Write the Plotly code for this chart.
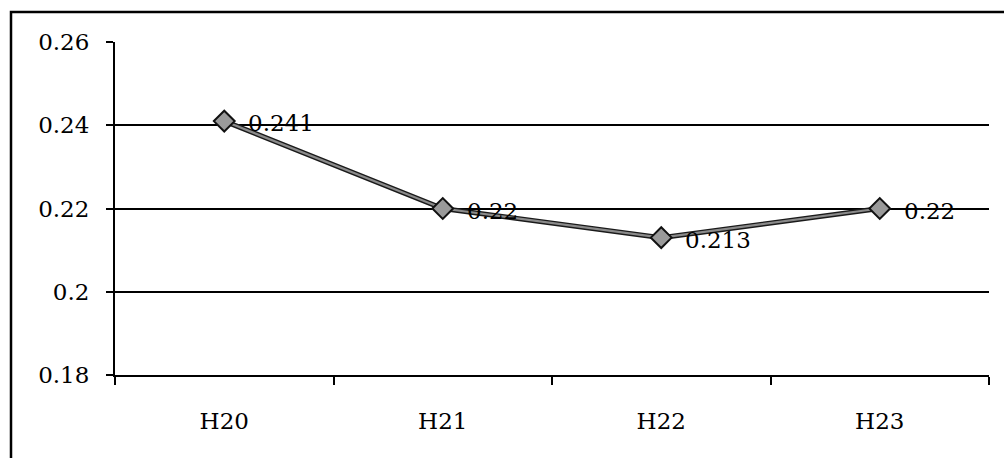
import plotly.graph_objects as go

categories = ["H20", "H21", "H22", "H23"]
values = [0.241, 0.22, 0.213, 0.22]
value_labels = ["0.241", "0.22", "0.213", "0.22"]
y_tick_vals = [0.18, 0.2, 0.22, 0.24, 0.26]
y_tick_text = ["0.18", "0.2", "0.22", "0.24", "0.26"]

FONT = "DejaVu Serif"

fig = go.Figure()
# dark outline of the line
fig.add_trace(go.Scatter(
    x=categories, y=values, mode="lines",
    line=dict(color="#1a1a1a", width=5),
    hoverinfo="skip", showlegend=False,
))
# gray core of the line + markers
fig.add_trace(go.Scatter(
    x=categories, y=values, mode="lines+markers",
    line=dict(color="#8a8a8a", width=2.2),
    marker=dict(symbol="diamond", size=16, color="#9a9a9a",
                line=dict(color="#111111", width=2)),
    showlegend=False,
))

for c, v, t in zip(categories, values, value_labels):
    fig.add_annotation(x=c, y=v, text=t, showarrow=False,
                       xanchor="left", yanchor="middle",
                       xshift=22, yshift=-2,
                       font=dict(family=FONT, size=23, color="black"))

L, R, T, B = 115, 15, 42, 83
W, H = 1004, 458
pw = W - L - R
ph = H - T - B

def px_to_paper_x(px):
    return (px - L) / pw

def px_to_paper_y(py):
    return (H - B - py) / ph

fig.add_shape(type="rect", xref="paper", yref="paper",
              x0=px_to_paper_x(11), x1=px_to_paper_x(1015),
              y0=px_to_paper_y(470), y1=px_to_paper_y(12),
              line=dict(color="black", width=2.5), layer="below")

fig.update_layout(
    width=W, height=H,
    margin=dict(l=L, r=R, t=T, b=B),
    paper_bgcolor="white", plot_bgcolor="white",
    font=dict(family=FONT, size=23, color="black"),
    xaxis=dict(
        type="category", tickson="boundaries", ticks="outside", ticklen=8,
        tickwidth=1.5, tickcolor="black", showline=True, linecolor="black",
        linewidth=1.5, showgrid=False, ticklabelstandoff=25,
        tickfont=dict(family=FONT, size=23, color="black"),
        range=[-0.5, 3.5],
    ),
    yaxis=dict(
        range=[0.18, 0.26], tickvals=y_tick_vals, ticktext=y_tick_text,
        ticks="outside", ticklen=7, tickwidth=1.5, tickcolor="black",
        showline=True, linecolor="black", linewidth=2,
        showgrid=True, gridcolor="black", gridwidth=1.5,
        zeroline=False, ticklabelstandoff=12,
        tickfont=dict(family=FONT, size=23, color="black"),
    ),
)

fig.write_html("out.html", config={"displayModeBar": False},
               post_script="document.body.style.margin='0';document.body.style.padding='0';")
